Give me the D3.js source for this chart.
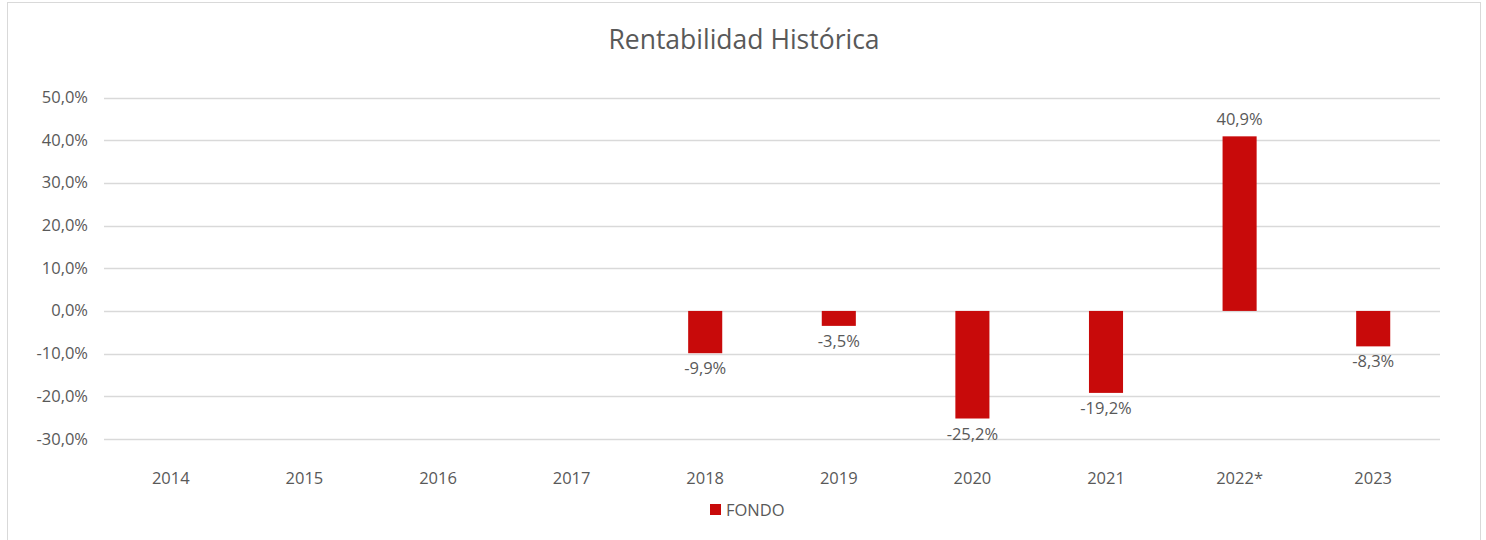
<!DOCTYPE html>
<html>
<head>
<meta charset="utf-8">
<script src="https://cdn.jsdelivr.net/npm/d3@7"></script>
<style>
  body { margin: 0; background: #fff; }
  svg text { font-family: "Open Sans", sans-serif; fill: #595959; }
</style>
</head>
<body>
<div id="chart"></div>
<script>
var years = ["2014", "2015", "2016", "2017", "2018", "2019", "2020", "2021", "2022*", "2023"]
var fondo = [null, null, null, null, -9.9, -3.5, -25.2, -19.2, 40.9, -8.3]
var yTicks = [-30, -20, -10, 0, 10, 20, 30, 40, 50]

var width = 1486, height = 540

var es = d3.formatLocale({decimal: ",", thousands: ".", grouping: [3], currency: ["", "€"], minus: "-"})
var fmt = es.format(".1f")

var svg = d3.select("#chart").append("svg")
    .attr("width", width)
    .attr("height", height)

// chart frame
svg.append("rect")
    .attr("x", 7.5).attr("y", 2.5)
    .attr("width", 1473).attr("height", 560)
    .attr("fill", "none")
    .attr("stroke", "#d9d9d9")

svg.append("text")
    .attr("x", 744).attr("y", 49)
    .attr("text-anchor", "middle")
    .attr("font-size", "26.5px")
    .text("Rentabilidad Histórica")

var x = d3.scaleBand()
    .domain(years)
    .range([104, 1440])
    .paddingInner(0.745)
    .paddingOuter(0.3725)

var y = d3.scaleLinear()
    .domain([-30, 50])
    .range([439, 97.5])

// gridlines
svg.append("g").selectAll("line")
    .data(yTicks)
    .enter().append("line")
        .attr("x1", 104).attr("x2", 1440)
        .attr("y1", function(d) { return Math.round(y(d)) + 0.5 })
        .attr("y2", function(d) { return Math.round(y(d)) + 0.5 })
        .attr("stroke", "#d9d9d9")
        .attr("stroke-width", 1.5)

svg.append("g").selectAll("text")
    .data(yTicks)
    .enter().append("text")
        .attr("x", 88)
        .attr("y", function(d) { return y(d) + 5.5 })
        .attr("text-anchor", "end")
        .attr("font-size", "16.5px")
        .text(function(d) { return fmt(d) + "%" })

// x labels
svg.append("g").selectAll("text")
    .data(years)
    .enter().append("text")
        .attr("x", function(d) { return x(d) + x.bandwidth() / 2 })
        .attr("y", 484)
        .attr("text-anchor", "middle")
        .attr("font-size", "16.5px")
        .text(function(d) { return d })

var rows = years.map(function(d, i) { return {year: d, v: fondo[i]} })
    .filter(function(d) { return d.v != null })

svg.append("g").selectAll("rect")
    .data(rows)
    .enter().append("rect")
        .attr("x", function(d) { return x(d.year) })
        .attr("width", x.bandwidth())
        .attr("y", function(d) { return y(Math.max(0, d.v)) })
        .attr("height", function(d) { return Math.abs(y(d.v) - y(0)) })
        .attr("fill", "#c80a0a")

svg.append("g").selectAll("text")
    .data(rows)
    .enter().append("text")
        .attr("x", function(d) { return x(d.year) + x.bandwidth() / 2 })
        .attr("y", function(d) { return d.v < 0 ? y(d.v) + 21 : y(d.v) - 11 })
        .attr("text-anchor", "middle")
        .attr("font-size", "16.5px")
        .text(function(d) { return fmt(d.v) + "%" })

// legend
svg.append("rect")
    .attr("x", 710).attr("y", 504)
    .attr("width", 11).attr("height", 11)
    .attr("fill", "#c80a0a")
svg.append("text")
    .attr("x", 726).attr("y", 516)
    .attr("font-size", "16.5px")
    .text("FONDO")
</script>
</body>
</html>
